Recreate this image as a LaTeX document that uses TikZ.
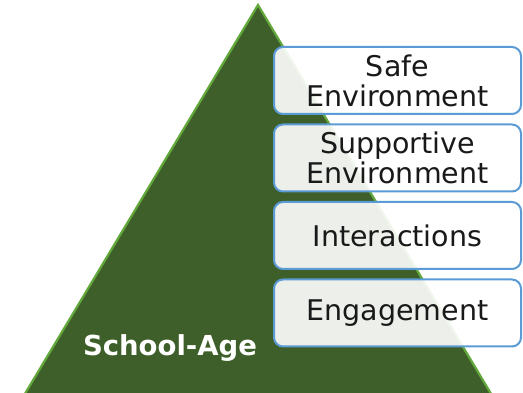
\documentclass[tikz,border=0pt]{standalone}
\usepackage{fontspec}
\setmainfont{DejaVu Sans}
\definecolor{pyrgreen}{HTML}{3E5F29}
\definecolor{pyredge}{HTML}{62A83A}
\definecolor{boxblue}{HTML}{5B9BD5}
\begin{document}
\begin{tikzpicture}[x=1pt,y=-1pt,
  layerbox/.style={draw=boxblue,line width=2pt,rounded corners=9pt,fill=white,fill opacity=0.9,text opacity=1,
    minimum width=247pt,minimum height=67pt,inner sep=0pt,align=center,
    font=\fontsize{28.5}{30}\selectfont,text=black!90}]
\useasboundingbox (0,0) rectangle (523,393);
\clip (0,0) rectangle (523,393);
\fill[white] (0,0) rectangle (523,393);
\draw[fill=pyrgreen,draw=pyredge,line width=2.2pt] (258,5) -- (496,402) -- (20,402) -- cycle;
\node[font=\bfseries\fontsize{27.5}{30}\selectfont,text=white,anchor=base] (age) at (170,355.5) {School-Age};
\node[layerbox] (safe) at (397.5,80.5) {Safe\\Environment};
\node[layerbox] (supp) at (397.5,158) {Supportive\\Environment};
\node[layerbox] (inter) at (397.5,235.5) {Interactions};
\node[layerbox] (eng) at (397.5,313) {Engagement};
\end{tikzpicture}
\end{document}
